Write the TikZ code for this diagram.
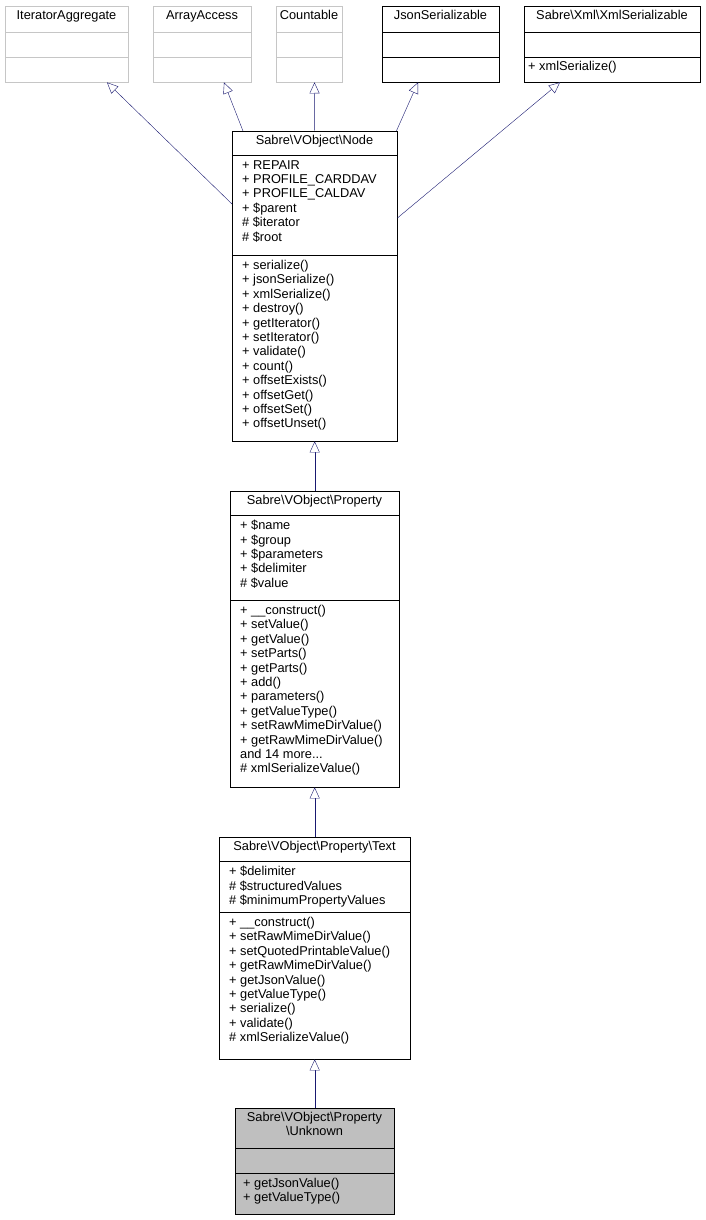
\documentclass[tikz,border=0pt]{standalone}
\usepackage{fontspec}
\setmainfont{Liberation Sans}
\usetikzlibrary{arrows.meta,calc}

\tikzset{
    cls/.style={draw=black, fill=white, anchor=north west, inner sep=0pt},
    ext/.style={cls, draw=gray!45},
    cur/.style={cls, fill=gray!50},
    txt/.style={anchor=north west, inner sep=0pt, align=left,
        font=\fontsize{12.8}{14.4}\selectfont},
    ttl/.style={anchor=north, inner sep=0pt, align=center,
        font=\fontsize{12.8}{14.4}\selectfont},
    inh/.style={draw={rgb,255:red,25;green,25;blue,112},
        -{Triangle[open, length=11pt, width=10pt, fill=white]}}
}

\begin{document}
\begin{tikzpicture}[x=1pt, y=-1pt]
    \useasboundingbox (0,0) rectangle (705,1220);

    % top row
    \node[ext, minimum width=123pt, minimum height=76pt] (itagg) at (5,6) {};
    \draw[gray!45] (5,32) -- (128,32) (5,57) -- (128,57);
    \node[ttl] at (66.5,10) {IteratorAggregate};

    \node[ext, minimum width=98pt, minimum height=76pt] (arracc) at (153,6) {};
    \draw[gray!45] (153,32) -- (251,32) (153,57) -- (251,57);
    \node[ttl] at (202,10) {ArrayAccess};

    \node[ext, minimum width=66pt, minimum height=76pt] (countable) at (276,6) {};
    \draw[gray!45] (276,32) -- (342,32) (276,57) -- (342,57);
    \node[ttl] at (309,10) {Countable};

    \node[cls, minimum width=117pt, minimum height=76pt] (jsonser) at (382,6) {};
    \draw (382,32) -- (499,32) (382,57) -- (499,57);
    \node[ttl] at (440.5,10) {JsonSerializable};

    \node[cls, minimum width=176pt, minimum height=76pt] (xmlser) at (524,6) {};
    \draw (524,32) -- (700,32) (524,57) -- (700,57);
    \node[ttl] at (612,10) {Sabre\textbackslash Xml\textbackslash XmlSerializable};
    \node[txt] at (528,61) {+ xmlSerialize()};

    % Node
    \node[cls, minimum width=165pt, minimum height=310pt] (node) at (232,131) {};
    \draw (232,155) -- (397,155) (232,255) -- (397,255);
    \node[ttl] at (314.5,135) {Sabre\textbackslash VObject\textbackslash Node};
    \node[txt] at (242,160) {+ REPAIR\\+ PROFILE\_CARDDAV\\+ PROFILE\_CALDAV\\
        + \$parent\\\# \$iterator\\\# \$root};
    \node[txt] at (242,260) {+ serialize()\\+ jsonSerialize()\\+ xmlSerialize()\\
        + destroy()\\+ getIterator()\\+ setIterator()\\+ validate()\\+ count()\\
        + offsetExists()\\+ offsetGet()\\+ offsetSet()\\+ offsetUnset()};

    % Property
    \node[cls, minimum width=169pt, minimum height=296pt] (property) at (230,491) {};
    \draw (230,515) -- (399,515) (230,600) -- (399,600);
    \node[ttl] at (314.5,495) {Sabre\textbackslash VObject\textbackslash Property};
    \node[txt] at (240,520) {+ \$name\\+ \$group\\+ \$parameters\\
        + \$delimiter\\\# \$value};
    \node[txt] at (240,605) {+ \_\_construct()\\+ setValue()\\+ getValue()\\
        + setParts()\\+ getParts()\\+ add()\\+ parameters()\\+ getValueType()\\
        + setRawMimeDirValue()\\+ getRawMimeDirValue()\\and 14 more...\\
        \# xmlSerializeValue()};

    % Text
    \node[cls, minimum width=191pt, minimum height=222pt] (text) at (219,837) {};
    \draw (219,861) -- (410,861) (219,912) -- (410,912);
    \node[ttl] at (314.5,841) {Sabre\textbackslash VObject\textbackslash Property\textbackslash Text};
    \node[txt] at (229,866) {+ \$delimiter\\\# \$structuredValues\\
        \# \$minimumPropertyValues};
    \node[txt] at (229,917) {+ \_\_construct()\\+ setRawMimeDirValue()\\
        + setQuotedPrintableValue()\\+ getRawMimeDirValue()\\+ getJsonValue()\\
        + getValueType()\\+ serialize()\\+ validate()\\\# xmlSerializeValue()};

    % Unknown
    \node[cur, minimum width=159pt, minimum height=106pt] (unknown) at (235,1108) {};
    \draw (235,1148) -- (394,1148) (235,1173) -- (394,1173);
    \node[ttl] at (314.5,1112) {Sabre\textbackslash VObject\textbackslash Property\\
        \textbackslash Unknown};
    \node[txt] at (243,1178) {+ getJsonValue()\\+ getValueType()};

    % inheritance
    \draw[inh] ($(node.north west)+(0,73)$) -- ($(itagg.south west)+(102,0)$);
    \draw[inh] ($(node.north west)+(11,0)$) -- ($(arracc.south west)+(71,0)$);
    \draw[inh] (node.north) -- ($(countable.south west)+(38.5,0)$);
    \draw[inh] ($(node.north east)+(-1,0)$) -- ($(jsonser.south west)+(36,0)$);
    \draw[inh] ($(node.north east)+(0,87)$) -- ($(xmlser.south west)+(36,0)$);
    \draw[inh] (property.north) -- (node.south);
    \draw[inh] (text.north) -- (property.south);
    \draw[inh] (unknown.north) -- (text.south);
\end{tikzpicture}
\end{document}
